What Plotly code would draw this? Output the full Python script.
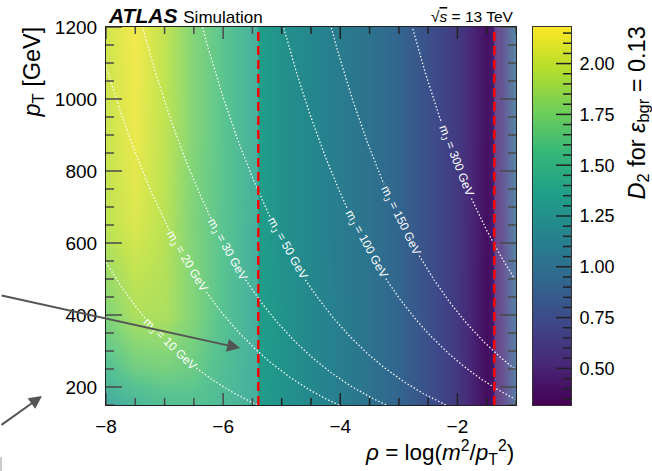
import numpy as np
import plotly.graph_objects as go

# ---- data -------------------------------------------------------------
# rho = log(m^2/pT^2) bin centres and pT rows of the D2 cut map
rho_centers = [-8.0, -7.5, -7.0, -6.5, -6.0, -5.5, -5.0, -4.5, -4.0, -3.5,
               -3.0, -2.5, -2.0, -1.75, -1.5, -1.25, -1.0]
pt_rows = [150, 250, 400, 650, 900, 1200]

# D2 value giving a background efficiency of 0.13 (rows follow pt_rows)
d2_cut = [
    [1.30, 1.42, 1.50, 1.52, 1.46, 1.36, 1.27, 1.19, 1.11, 1.02, 0.92, 0.78, 0.63, 0.50, 0.38, 0.50, 0.90],
    [1.52, 1.66, 1.70, 1.64, 1.50, 1.37, 1.27, 1.19, 1.11, 1.02, 0.92, 0.78, 0.63, 0.50, 0.38, 0.52, 0.92],
    [1.74, 1.90, 1.90, 1.74, 1.54, 1.38, 1.27, 1.19, 1.11, 1.02, 0.92, 0.78, 0.63, 0.50, 0.38, 0.54, 0.94],
    [1.96, 2.06, 1.94, 1.72, 1.56, 1.38, 1.26, 1.18, 1.10, 1.02, 0.92, 0.78, 0.63, 0.51, 0.39, 0.55, 0.96],
    [2.00, 2.12, 1.96, 1.74, 1.57, 1.39, 1.26, 1.18, 1.10, 1.02, 0.92, 0.78, 0.64, 0.52, 0.40, 0.56, 0.98],
    [2.03, 2.14, 1.97, 1.74, 1.57, 1.39, 1.26, 1.18, 1.10, 1.02, 0.92, 0.78, 0.64, 0.52, 0.40, 0.56, 1.00],
]

# constant jet-mass curves, pT = mJ * exp(-rho/2)
mass_values = [10, 20, 30, 50, 100, 150, 300]

# rho window used for the cut
rho_window = [-5.4, -1.37]

x_ticks = [-8, -6, -4, -2]
y_ticks = [200, 400, 600, 800, 1000, 1200]
cbar_ticks = [0.5, 0.75, 1.0, 1.25, 1.5, 1.75, 2.0]
x_range = [-8, -1]
y_range = [150, 1200]
z_range = [0.32, 2.18]

# ---- geometry ---------------------------------------------------------
W, H = 652, 471
ML, MR, MT, MB = 106, 81, 27, 66
plot_px_w = 410                       # width of the map itself
full_px_w = W - ML - MR               # map + colour scale
plot_px_h = H - MT - MB
x_dom_end = plot_px_w / full_px_w
cb_dom_start = (533 - ML) / full_px_w
cb_px_w = full_px_w - (533 - ML)
cb_x_range = [-0.5, 1.5]
sx = plot_px_w / (x_range[1] - x_range[0])
sy = plot_px_h / (y_range[1] - y_range[0])
scb = cb_px_w / (cb_x_range[1] - cb_x_range[0])

FONT = "Liberation Sans, Arial, Helvetica, sans-serif"
TICK_LINE = dict(color="#222222", width=1.5)

fig = go.Figure()

fig.add_trace(go.Heatmap(
    x=rho_centers, y=pt_rows, z=d2_cut,
    colorscale="Viridis", zmin=z_range[0], zmax=z_range[1],
    zsmooth="best", hoverinfo="skip", showscale=False,
))

# colour scale drawn as its own small panel so it can carry minor ticks
scale_levels = np.linspace(z_range[0], z_range[1], 300)
fig.add_trace(go.Heatmap(
    x=[0, 1], y=scale_levels, z=[[v, v] for v in scale_levels],
    colorscale="Viridis", zmin=z_range[0], zmax=z_range[1],
    xaxis="x2", yaxis="y2", showscale=False, hoverinfo="skip",
))

# jet-mass curves with a gap where the label sits
label_rho = {10: -6.91, 20: -6.62, 30: -5.93, 50: -4.91, 100: -3.57, 150: -2.97, 300: -2.03}
annotations = []
rho_line = np.linspace(x_range[0], x_range[1], 700)
for m in mass_values:
    pt = m * np.exp(-rho_line / 2.0)
    xp = (rho_line - x_range[0]) * sx
    yp = (y_range[1] - pt) * sy
    rl = label_rho[m]
    ptl = m * np.exp(-rl / 2.0)
    xl = (rl - x_range[0]) * sx
    yl = (y_range[1] - ptl) * sy
    half_gap = 26 + 4.5 * len(str(m))
    dist = np.hypot(xp - xl, yp - yl)
    yvals = [None if d < half_gap else float(v) for d, v in zip(dist, pt)]
    fig.add_trace(go.Scatter(
        x=rho_line, y=yvals, mode="lines", connectgaps=False,
        line=dict(color="rgba(255,255,255,0.95)", width=1.3, dash="1.5px,2px"),
        hoverinfo="skip", showlegend=False,
    ))
    angle = np.degrees(np.arctan((ptl / 2.0) * sy / sx))
    annotations.append(dict(
        x=rl, y=ptl, xref="x", yref="y",
        text=f"m<sub>J</sub> = {m} GeV", showarrow=False,
        textangle=angle, font=dict(family=FONT, size=12, color="white"),
    ))


# inward tick marks (frame of the map on all four sides, right edge of the scale)
def tick_segments(values, fixed, length, vertical):
    xs, ys = [], []
    for v in values:
        if vertical:
            xs += [v, v, None]
            ys += [fixed, fixed + length, None]
        else:
            xs += [fixed, fixed + length, None]
            ys += [v, v, None]
    return xs, ys


x_minor = [float(v) for v in np.arange(x_range[0], x_range[1] + 1e-9, 0.5) if v not in x_ticks]
y_minor = [v for v in range(y_range[0], y_range[1] + 1, 50) if v not in y_ticks]
cb_minor = [round(float(v), 2) for v in np.arange(0.35, z_range[1], 0.05)
            if min(abs(v - t) for t in cbar_ticks) > 1e-6]

tick_sets = [
    (x_ticks, y_range[0], 12 / sy, True, "x", "y"),
    (x_minor, y_range[0], 7 / sy, True, "x", "y"),
    (x_ticks, y_range[1], -12 / sy, True, "x", "y"),
    (x_minor, y_range[1], -7 / sy, True, "x", "y"),
    (y_ticks, x_range[0], 16 / sx, False, "x", "y"),
    (y_minor, x_range[0], 8 / sx, False, "x", "y"),
    (y_ticks, x_range[1], -16 / sx, False, "x", "y"),
    (y_minor, x_range[1], -8 / sx, False, "x", "y"),
    (cbar_ticks, cb_x_range[1], -15 / scb, False, "x2", "y2"),
    (cb_minor, cb_x_range[1], -8 / scb, False, "x2", "y2"),
]
for vals, fixed, length, vertical, xa, ya in tick_sets:
    xs, ys = tick_segments(vals, fixed, length, vertical)
    fig.add_trace(go.Scatter(x=xs, y=ys, mode="lines", line=TICK_LINE,
                             xaxis=xa, yaxis=ya, hoverinfo="skip", showlegend=False))

shapes = []
# pale veil outside the rho window
for x0, x1 in [(x_range[0], rho_window[0]), (rho_window[1], x_range[1])]:
    shapes.append(dict(type="rect", xref="x", yref="y", x0=x0, x1=x1,
                       y0=y_range[0], y1=y_range[1], line=dict(width=0),
                       fillcolor="rgba(255,255,255,0.18)", layer="above"))
for r in rho_window:
    shapes.append(dict(type="line", xref="x", yref="y", x0=r, x1=r,
                       y0=y_range[0], y1=y_range[1], layer="above",
                       line=dict(color="#ff0000", width=2.5, dash="9px,5px")))
# edge of a clipped box at the lower left
shapes.append(dict(type="line", xref="paper", yref="paper",
                   x0=(1 - ML) / full_px_w, x1=(1 - ML) / full_px_w,
                   y0=(H - MB - 457) / plot_px_h, y1=(H - MB - 471) / plot_px_h,
                   line=dict(color="#bbbbbb", width=1.5)))

# pointer arrows coming from the left
annotations += [
    dict(x=-5.71, y=308, xref="x", yref="y", ax=-240, ay=-53, text="",
         showarrow=True, arrowhead=2, arrowsize=1.3, arrowwidth=2, arrowcolor="#555555"),
    dict(x=(42 - ML) / full_px_w, y=(H - MB - 396) / plot_px_h, xref="paper", yref="paper",
         ax=-42, ay=30, text="", showarrow=True, arrowhead=2, arrowsize=1.3,
         arrowwidth=2, arrowcolor="#555555"),
]

# titles and labels
annotations += [
    dict(x=0, y=1, xref="paper", yref="paper", xanchor="left", yanchor="bottom",
         yshift=-2, showarrow=False,
         text="<b><i>ATLAS</i></b> <span style='font-size:17px'>Simulation</span>",
         font=dict(family=FONT, size=21, color="black")),
    dict(x=x_dom_end, y=1, xref="paper", yref="paper", xanchor="right", yanchor="bottom",
         yshift=0, showarrow=False,
         text="√<span style='text-decoration:overline'><i>s</i></span> = 13 TeV",
         font=dict(family=FONT, size=15.5, color="black")),
    dict(x=x_dom_end, y=(H - MB - 470) / plot_px_h, xref="paper", yref="paper",
         xanchor="right", yanchor="bottom", showarrow=False,
         text="<i>ρ</i> = log(<i>m</i><sup>2</sup>/<i>p</i><sub>T</sub><sup>2</sup>)",
         font=dict(family=FONT, size=22.5, color="black")),
    dict(x=(33 - ML) / full_px_w, y=1, xref="paper", yref="paper", xanchor="center",
         yanchor="top", yshift=2, textangle=-90, showarrow=False,
         text="<i>p</i><sub>T</sub> [GeV]",
         font=dict(family=FONT, size=23.5, color="black")),
    dict(x=(638 - ML) / full_px_w, y=1, xref="paper", yref="paper", xanchor="center",
         yanchor="top", yshift=2, textangle=-90, showarrow=False,
         text="<i>D</i><sub>2</sub> for <i>ε</i><sub>bgr</sub> = 0.13",
         font=dict(family=FONT, size=23.5, color="black")),
]

fig.update_layout(
    width=W, height=H,
    margin=dict(l=ML, r=MR, t=MT, b=MB, pad=0),
    paper_bgcolor="white", plot_bgcolor="white",
    font=dict(family=FONT, size=18, color="black"),
    showlegend=False,
    shapes=shapes, annotations=annotations,
    xaxis=dict(
        domain=[0, x_dom_end], range=x_range, tickvals=x_ticks, ticks="",
        showline=True, linecolor="#222222", linewidth=1.2, mirror=True,
        showgrid=False, zeroline=False, tickfont=dict(size=19), ticklabelstandoff=4,
    ),
    yaxis=dict(
        range=y_range, tickvals=y_ticks, ticks="",
        showline=True, linecolor="#222222", linewidth=1.2, mirror=True,
        showgrid=False, zeroline=False, tickfont=dict(size=19), ticklabelstandoff=4,
    ),
    xaxis2=dict(
        domain=[cb_dom_start, 1.0], anchor="y2", range=cb_x_range,
        showticklabels=False, ticks="", showgrid=False, zeroline=False,
        showline=True, linecolor="#333333", linewidth=1, mirror=True,
    ),
    yaxis2=dict(
        anchor="x2", side="right", range=z_range,
        tickvals=cbar_ticks, tickformat=".2f", ticks="",
        showline=True, linecolor="#333333", linewidth=1, mirror=True,
        showgrid=False, zeroline=False, tickfont=dict(size=18), ticklabelstandoff=4,
    ),
)

fig.write_html("out.html")
